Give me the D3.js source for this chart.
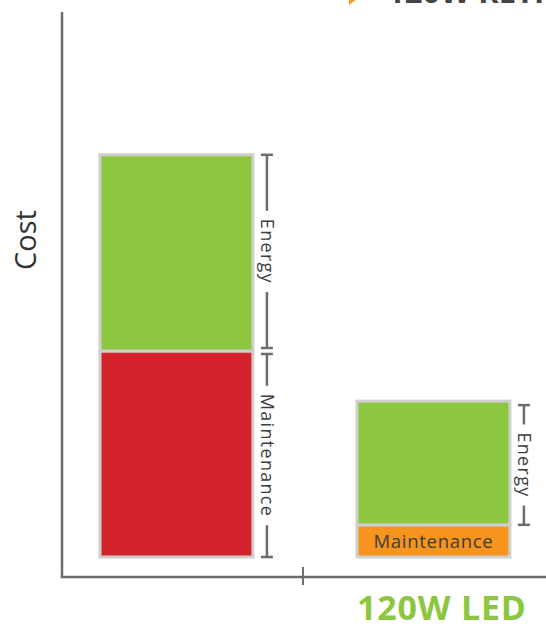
<!DOCTYPE html>
<html>
<head>
<meta charset="utf-8">
<script src="https://cdn.jsdelivr.net/npm/d3@7"></script>
<style>
  html, body { margin: 0; padding: 0; background: #fff; }
  svg { display: block; font-family: "Open Sans", "Noto Sans", sans-serif; }
</style>
</head>
<body>
<svg id="chart" width="546" height="628"></svg>
<script>
// ---- data ----
const categories = ["120W Retrofit", "120W LED"];
const maintenanceCost = [37.8, 5.9];
const energyCost = [36.0, 22.7];
const segmentNames = ["Maintenance", "Energy"];
const yAxisTitle = "Cost";
const topLabel = "120W RETROFIT";
const bottomLabel = "120W LED";

const svg = d3.select("#chart");
const W = 546, H = 628;

const x = d3.scaleBand().domain(categories).range([48.6, 561.3])
  .paddingInner(0.405).paddingOuter(0.2);
const y = d3.scaleLinear().domain([0, 100]).range([557, 12]);

const colors = {
  Energy: "#8dc63f",
  Maintenance: ["#d2232a", "#f7941d"]
};

// axes lines
svg.append("line").attr("x1", 62).attr("x2", 62).attr("y1", y(100)).attr("y2", 577)
  .attr("stroke", "#6d6d6d").attr("stroke-width", 2.5);
svg.append("line").attr("x1", 60.8).attr("x2", W).attr("y1", 577).attr("y2", 577)
  .attr("stroke", "#6d6d6d").attr("stroke-width", 2.5);
// tick between categories
const tickX = (x(categories[0]) + x.bandwidth() + x(categories[1])) / 2 - 2;
svg.append("line").attr("x1", tickX).attr("x2", tickX).attr("y1", 567).attr("y2", 585)
  .attr("stroke", "#6d6d6d").attr("stroke-width", 2);

// bars
categories.forEach((c, i) => {
  const bx = x(c), bw = x.bandwidth();
  const m = maintenanceCost[i], e = energyCost[i];
  svg.append("rect").attr("x", bx).attr("width", bw)
    .attr("y", y(m)).attr("height", y(0) - y(m))
    .attr("fill", colors.Maintenance[i]).attr("stroke", "#cfcfcf").attr("stroke-width", 3);
  svg.append("rect").attr("x", bx).attr("width", bw)
    .attr("y", y(m + e)).attr("height", y(m) - y(m + e))
    .attr("fill", colors.Energy).attr("stroke", "#cfcfcf").attr("stroke-width", 3);
});

// brackets
function bracket(bx, y0, y1, label, fontSize, gapPad) {
  const g = svg.append("g");
  const cy = (y0 + y1) / 2;
  const t = g.append("text")
    .attr("transform", `translate(${bx - 6},${cy}) rotate(90)`)
    .attr("text-anchor", "middle")
    .attr("fill", "#3d3d3d")
    .attr("font-size", fontSize)
    .attr("letter-spacing", "1.3px")
    .text(label);
  const len = t.node().getComputedTextLength();
  const half = len / 2 + gapPad;
  const stroke = "#6d6d6d", sw = 2.5;
  if (cy - half > y0 + 2) {
    [[y0, cy - half], [cy + half, y1]].forEach(s => {
      g.append("line").attr("x1", bx).attr("x2", bx).attr("y1", s[0]).attr("y2", s[1])
        .attr("stroke", stroke).attr("stroke-width", sw);
    });
  }
  [y0, y1].forEach(yy => {
    g.append("line").attr("x1", bx - 6).attr("x2", bx + 6).attr("y1", yy).attr("y2", yy)
      .attr("stroke", stroke).attr("stroke-width", sw);
  });
}

const b0x = x(categories[0]) + x.bandwidth() + 14;
bracket(b0x, y(maintenanceCost[0] + energyCost[0]), y(maintenanceCost[0]) - 3, "Energy", 18, 8);
bracket(b0x, y(maintenanceCost[0]) + 3, y(0), "Maintenance", 18, 8);
const b1x = x(categories[1]) + x.bandwidth() + 14;
bracket(b1x, y(maintenanceCost[1] + energyCost[1]) + 4, y(maintenanceCost[1]), "Energy", 18, 8);

// Maintenance label inside the small orange segment
svg.append("text")
  .attr("x", x(categories[1]) + x.bandwidth() / 2)
  .attr("y", (y(maintenanceCost[1]) + y(0)) / 2 + 7)
  .attr("text-anchor", "middle")
  .attr("fill", "#3d3d3d").attr("font-size", 18.5).attr("letter-spacing", "0.7px")
  .text(segmentNames[0]);

// Y axis title
svg.append("text")
  .attr("transform", "translate(36,240) rotate(-90)")
  .attr("text-anchor", "middle")
  .attr("fill", "#333").attr("font-size", 29)
  .text(yAxisTitle);

// Bottom category label
svg.append("text")
  .attr("x", x(categories[1]))
  .attr("y", 620)
  .attr("fill", "#8dc63f").attr("font-size", 34).attr("font-weight", "bold")
  .attr("letter-spacing", "0.8px")
  .text(bottomLabel);

// Top label (cropped)
svg.append("path")
  .attr("d", "M349,-7 L357,-1 L349,5 Z")
  .attr("fill", "#f7941d");
svg.append("text")
  .attr("x", 387).attr("y", 3)
  .attr("fill", "#444").attr("font-size", 31).attr("font-weight", "bold")
  .text(topLabel);
</script>
</body>
</html>
